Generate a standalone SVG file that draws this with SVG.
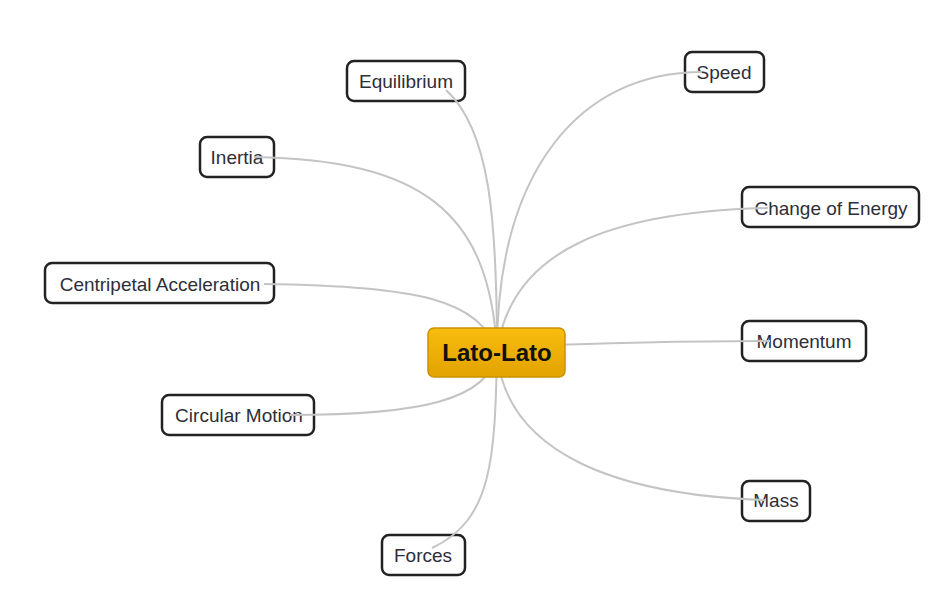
<svg xmlns="http://www.w3.org/2000/svg" width="948" height="606" viewBox="0 0 948 606">
<defs>
<linearGradient id="gold" x1="0" y1="0" x2="0" y2="1">
<stop offset="0" stop-color="#f7bd0e"/>
<stop offset="1" stop-color="#e3a200"/>
</linearGradient>
<style>
.box{fill:#fff;stroke:#222;stroke-width:2.5}
.lbl{font-family:"Liberation Sans",Arial,sans-serif;font-size:19px;fill:#2e2e38;text-anchor:middle;dominant-baseline:central}
.ln{fill:none;stroke:#c4c4c4;stroke-width:2}
.ctr{fill:url(#gold);stroke:#c99200;stroke-width:1.5}
.ctxt{font-family:"Liberation Sans",Arial,sans-serif;font-size:24px;font-weight:bold;fill:#111;text-anchor:middle;dominant-baseline:central}
</style>
</defs>
<rect width="948" height="606" fill="#fff"/>
<g id="n-equilibrium"><rect class="box" x="347" y="61" width="118" height="40" rx="7"/><text class="lbl" x="406" y="81">Equilibrium</text></g>
<g id="n-speed"><rect class="box" x="685" y="52" width="79" height="40" rx="7"/><text class="lbl" x="724" y="72">Speed</text></g>
<g id="n-inertia"><rect class="box" x="200" y="137" width="74" height="40" rx="7"/><text class="lbl" x="237" y="157">Inertia</text></g>
<g id="n-change"><rect class="box" x="742" y="187" width="177" height="40" rx="7"/><text class="lbl" x="831" y="208">Change of Energy</text></g>
<g id="n-centripetal"><rect class="box" x="45" y="263" width="229" height="40" rx="7"/><text class="lbl" x="160" y="284">Centripetal Acceleration</text></g>
<g id="n-momentum"><rect class="box" x="742" y="321" width="124" height="40" rx="7"/><text class="lbl" x="804" y="341">Momentum</text></g>
<g id="n-circular"><rect class="box" x="162" y="395" width="152" height="40" rx="7"/><text class="lbl" x="239" y="415">Circular Motion</text></g>
<g id="n-mass"><rect class="box" x="742" y="481" width="68" height="40" rx="7"/><text class="lbl" x="776" y="500">Mass</text></g>
<g id="n-forces"><rect class="box" x="382" y="535" width="83" height="40" rx="7"/><text class="lbl" x="423" y="555">Forces</text></g>
<g id="connectors">
<path class="ln" d="M497,352 C497,220 490,130 446,90"/>
<path class="ln" d="M497,352 C497,170 580,72 702,72"/>
<path class="ln" d="M497,352 C490,210 420,160 254,157"/>
<path class="ln" d="M497,352 C510,250 610,212 768,208"/>
<path class="ln" d="M497,352 C480,300 420,286 264,284"/>
<path class="ln" d="M497,347 C600,343 680,341 770,341"/>
<path class="ln" d="M497,352 C490,400 420,415 290,415"/>
<path class="ln" d="M497,352 C505,455 620,495 765,500"/>
<path class="ln" d="M497,352 C495,460 492,520 432,548"/>
</g>
<g id="n-lato"><rect class="ctr" x="428" y="328" width="137" height="49" rx="6"/><text class="ctxt" x="497" y="352">Lato-Lato</text></g>
</svg>
